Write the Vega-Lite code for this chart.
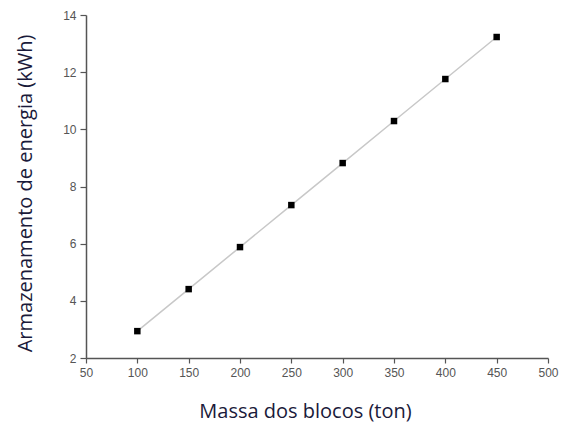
{
  "$schema": "https://vega.github.io/schema/vega-lite/v6.json",
  "width": 462,
  "height": 343,
  "autosize": "none",
  "padding": {"left": 86, "top": 15, "right": 15, "bottom": 65},
  "background": "white",
  "data": {"values": [
    {"massa": 100, "energia": 2.94},
    {"massa": 150, "energia": 4.41},
    {"massa": 200, "energia": 5.88},
    {"massa": 250, "energia": 7.35},
    {"massa": 300, "energia": 8.82},
    {"massa": 350, "energia": 10.29},
    {"massa": 400, "energia": 11.76},
    {"massa": 450, "energia": 13.23}
  ]},
  "config": {
    "view": {"stroke": null},
    "axis": {
      "grid": false,
      "domainColor": "#555",
      "tickColor": "#555",
      "labelColor": "#555",
      "labelFont": "Liberation Sans",
      "labelFontSize": 12,
      "labelFlush": false,
      "labelOverlap": false,
      "titleFont": "Open Sans",
      "titleFontSize": 20,
      "titleFontWeight": "normal",
      "titleColor": "#1a1a3a",
      "domainWidth": 1.5,
      "tickWidth": 1.2
    }
  },
  "encoding": {
    "x": {"field": "massa", "type": "quantitative",
      "scale": {"domain": [50, 500], "nice": false, "zero": false},
      "axis": {"title": "Massa dos blocos (ton)", "values": [50,100,150,200,250,300,350,400,450,500], "tickSize": 5, "labelPadding": 4, "titlePadding": 23, "titleX": 219}},
    "y": {"field": "energia", "type": "quantitative",
      "scale": {"domain": [2, 14], "nice": false, "zero": false},
      "axis": {"title": "Armazenamento de energia (kWh)", "values": [2,4,6,8,10,12,14], "tickSize": 6, "labelPadding": 4, "titlePadding": 27, "titleY": 178}}
  },
  "layer": [
    {"mark": {"type": "line", "color": "#c8c8c8", "strokeWidth": 1.5}},
    {"mark": {"type": "square", "color": "black", "filled": true, "opacity": 1, "size": 42}}
  ]
}
